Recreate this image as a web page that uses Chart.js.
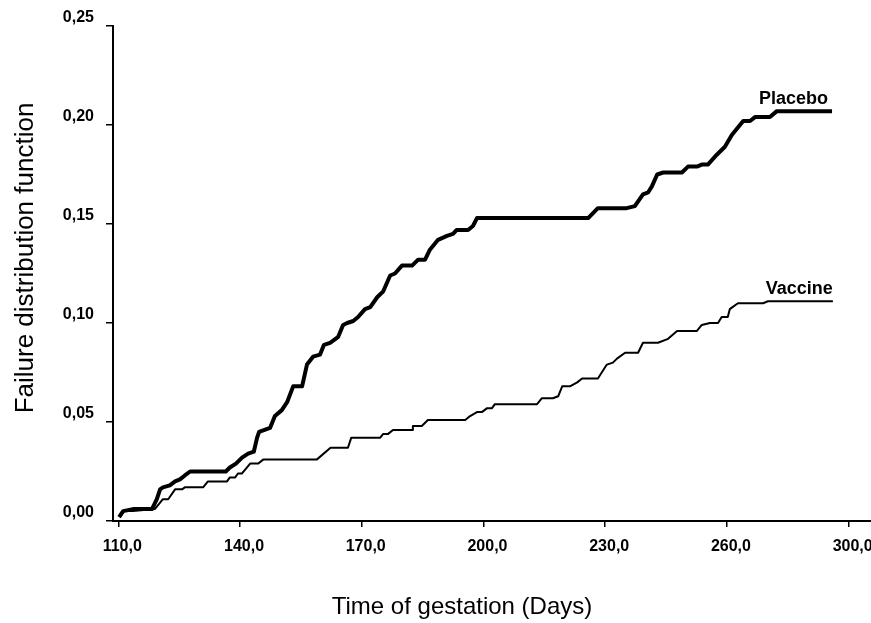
<!DOCTYPE html>
<html>
<head>
<meta charset="utf-8">
<script src="https://cdn.jsdelivr.net/npm/chart.js@4"></script>
<style>
  html, body { margin: 0; padding: 0; background: #fff; }
</style>
</head>
<body>
<canvas id="chart" width="871" height="623"></canvas>
<script>
/* ── Data ─────────────────────────────────────────────────────────── */
const placeboDays = [110.2, 111.2, 113.6, 118.3, 119.5, 120.3, 121.0, 122.7, 124.0, 125.2,
                     126.4, 127.7, 136.5, 137.5, 139.0, 140.5, 142.0, 143.4, 144.2, 144.7,
                     147.4, 148.6, 150.3, 151.6, 153.1, 155.3, 156.5, 158.0, 159.7, 160.7,
                     162.2, 164.2, 165.4, 166.4, 167.9, 169.1, 170.8, 172.1, 173.8, 175.3,
                     177.0, 178.2, 179.9, 182.4, 183.9, 185.6, 186.8, 188.8, 191.0, 192.5,
                     193.4, 196.2, 197.4, 198.4, 225.8, 228.2, 235.3, 237.3, 239.3, 240.6,
                     241.5, 242.8, 244.3, 248.9, 250.4, 252.6, 253.8, 255.3, 257.5, 259.5,
                     261.2, 263.2, 264.0, 265.7, 266.9, 270.6, 272.3, 285.9];
const placeboVals = [0.002, 0.005, 0.006, 0.006, 0.011, 0.016, 0.017, 0.018, 0.020, 0.021,
                     0.023, 0.025, 0.025, 0.027, 0.029, 0.032, 0.034, 0.035, 0.042, 0.045,
                     0.047, 0.053, 0.056, 0.060, 0.068, 0.068, 0.079, 0.083, 0.084, 0.089,
                     0.090, 0.093, 0.099, 0.100, 0.101, 0.103, 0.107, 0.108, 0.113, 0.116,
                     0.124, 0.125, 0.129, 0.129, 0.132, 0.132, 0.137, 0.142, 0.144, 0.145,
                     0.147, 0.147, 0.149, 0.153, 0.153, 0.158, 0.158, 0.159, 0.165, 0.166,
                     0.169, 0.175, 0.176, 0.176, 0.179, 0.179, 0.180, 0.180, 0.185, 0.189,
                     0.195, 0.200, 0.202, 0.202, 0.204, 0.204, 0.207, 0.207];

const vaccineDays = [110.4, 111.4, 113.6, 119.0, 121.0, 122.3, 124.0, 125.7, 126.4, 130.9,
                     132.1, 136.8, 137.5, 138.8, 139.5, 140.5, 142.5, 144.5, 145.7, 158.9,
                     162.3, 166.6, 167.4, 174.5, 175.3, 176.5, 177.7, 182.4, 182.6,
                     184.8, 186.3, 195.5, 196.7, 198.4, 199.6, 200.9, 202.1, 202.8, 213.2,
                     214.4, 217.1, 218.4, 219.4, 221.3, 223.1, 224.3, 228.2, 230.4, 231.9,
                     232.9, 234.9, 238.1, 239.3, 243.0, 245.5, 247.7, 252.6, 253.8, 255.8,
                     257.8, 258.7, 260.2, 260.7, 262.7, 268.9, 270.1, 286.1];
const vaccineVals = [0.002, 0.005, 0.005, 0.006, 0.011, 0.011, 0.016, 0.016, 0.017, 0.017,
                     0.020, 0.020, 0.022, 0.022, 0.024, 0.024, 0.029, 0.029, 0.031, 0.031,
                     0.037, 0.037, 0.042, 0.042, 0.044, 0.044, 0.046, 0.046, 0.048,
                     0.048, 0.051, 0.051, 0.053, 0.055, 0.055, 0.057, 0.057, 0.059, 0.059,
                     0.062, 0.062, 0.063, 0.068, 0.068, 0.070, 0.072, 0.072, 0.079, 0.080,
                     0.082, 0.085, 0.085, 0.090, 0.090, 0.092, 0.096, 0.096, 0.099, 0.100,
                     0.100, 0.103, 0.103, 0.107, 0.110, 0.110, 0.111, 0.111];

const xTickValues = [110, 140, 170, 200, 230, 260, 290];
const xTickLabels = ['110,0', '140,0', '170,0', '200,0', '230,0', '260,0', '300,0'];
const yTickValues = [0, 0.05, 0.10, 0.15, 0.20, 0.25];
const yTickLabels = ['0,00', '0,05', '0,10', '0,15', '0,20', '0,25'];

const xTitle = 'Time of gestation (Days)';
const yTitle = 'Failure distribution function';

const FONT = '"Liberation Sans", Arial, sans-serif';

function toPoints(xs, ys) {
  return xs.map(function(x, i) { return { x: x, y: ys[i] }; });
}

// ── Curve labels + axis titles ───────────────────────────────────────
const labelPlugin = {
  id: 'curveLabels',
  afterDatasetsDraw: function(chart) {
    const ctx = chart.ctx;
    const sx = chart.scales.x, sy = chart.scales.y;
    ctx.save();
    ctx.fillStyle = '#000';
    ctx.font = 'bold 18px ' + FONT;
    ctx.textAlign = 'right';
    ctx.textBaseline = 'alphabetic';
    chart.data.datasets.forEach(function(ds) {
      const last = ds.data[ds.data.length - 1];
      ctx.fillText(ds.label, sx.getPixelForValue(last.x) - ds.labelShift, sy.getPixelForValue(last.y) - 7);
    });

    ctx.textAlign = 'center';
    ctx.textBaseline = 'middle';
    ctx.font = '24px ' + FONT;
    ctx.fillText(xTitle, 462, 607);
    ctx.font = '26px ' + FONT;
    ctx.translate(26, 258);
    ctx.rotate(-Math.PI / 2);
    ctx.fillText(yTitle, 0, 0);
    ctx.restore();
  }
};

new Chart(document.getElementById('chart'), {
  type: 'line',
  data: {
    datasets: [{
      label: 'Placebo',
      data: toPoints(placeboDays, placeboVals),
      borderColor: '#000',
      borderWidth: 4,
      labelShift: 4
    }, {
      label: 'Vaccine',
      data: toPoints(vaccineDays, vaccineVals),
      borderColor: '#000',
      borderWidth: 2,
      labelShift: 0
    }]
  },
  options: {
    responsive: false,
    animation: false,
    layout: { padding: { top: 26, right: 0, bottom: 0, left: 0 } },
    elements: {
      point: { radius: 0, hoverRadius: 0 },
      line: { tension: 0, borderJoinStyle: 'round', borderCapStyle: 'butt', fill: false }
    },
    plugins: {
      legend: { display: false },
      tooltip: { enabled: false }
    },
    scales: {
      x: {
        type: 'linear',
        min: 108.7,
        max: 295.5,
        border: { color: '#000', width: 2 },
        grid: { drawOnChartArea: false, drawTicks: true, tickLength: 6, color: '#000', lineWidth: 1.5 },
        ticks: {
          color: '#000',
          font: { family: FONT, size: 16, weight: 'bold' },
          padding: 10,
          labelOffset: 4,
          maxRotation: 0,
          autoSkip: false,
          callback: function(v) { return xTickLabels[xTickValues.indexOf(v)]; }
        },
        afterBuildTicks: function(s) { s.ticks = xTickValues.map(function(v) { return { value: v }; }); },
        afterFit: function(s) { s.height = 102; s.paddingLeft = 0; s.paddingRight = 0; }
      },
      y: {
        type: 'linear',
        min: 0,
        max: 0.25,
        border: { color: '#000', width: 2 },
        grid: { drawOnChartArea: false, drawTicks: true, tickLength: 7, color: '#000', lineWidth: 1.5 },
        ticks: {
          color: '#000',
          font: { family: FONT, size: 16, weight: 'bold' },
          padding: 12,
          labelOffset: -8,
          autoSkip: false,
          callback: function(v) { return yTickLabels[yTickValues.indexOf(v)]; }
        },
        afterBuildTicks: function(s) { s.ticks = yTickValues.map(function(v) { return { value: v }; }); },
        afterFit: function(s) { s.width = 113; s.paddingTop = 0; s.paddingBottom = 0; }
      }
    }
  },
  plugins: [labelPlugin]
});
</script>
</body>
</html>
